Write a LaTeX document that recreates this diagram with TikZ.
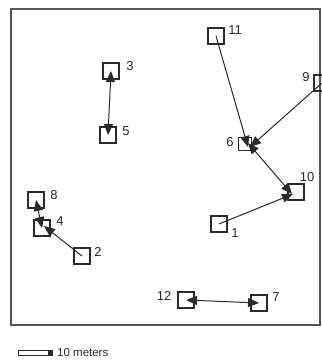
\documentclass[tikz,border=0pt]{standalone}
\usepackage{fontspec}
\setmainfont{Liberation Sans}
\usetikzlibrary{arrows.meta}
\definecolor{ink}{HTML}{2A2A2A}
\definecolor{frameink}{HTML}{555555}
\begin{document}
\begin{tikzpicture}[x=1pt,y=-1pt,
  site/.style={draw=ink,line width=1.2pt,minimum size=16pt,inner sep=0pt,fill=none},
  tag/.style={text=ink,font=\fontsize{13}{14}\selectfont,inner sep=0pt},
  tip/.style={Triangle[length=11pt,width=9pt]},
  move/.style={draw=ink,line width=1pt,-{Triangle[length=11pt,width=9pt]}},
  both/.style={draw=ink,line width=1pt,{Triangle[length=11pt,width=9pt]}-{Triangle[length=11pt,width=9pt]}}]
\useasboundingbox (0,0) rectangle (321,363);
\fill[white] (0,0) rectangle (321,363);
% study plot boundary
\draw[frameink,line width=1.8pt] (11,9) rectangle (320,325);
% sites
\node[site] (s11) at (216,36) {};
\node[site] (s3)  at (111,71) {};
\node[site] (s5)  at (108,135) {};
\node[site] (s9)  at (322,83) {};
\node[site,minimum size=13pt] (s6) at (245,144) {};
\node[site] (s10) at (296,192) {};
\node[site] (s8)  at (36,200) {};
\node[site] (s4)  at (42,228) {};
\node[site] (s2)  at (82,256) {};
\node[site] (s1)  at (219,224) {};
\node[site] (s12) at (186,300) {};
\node[site] (s7)  at (259,303) {};
% site numbers
\node[tag] (t11) at (235,30) {11};
\node[tag] (t3)  at (130,66) {3};
\node[tag] (t5)  at (126,131) {5};
\node[tag] (t9)  at (306,77) {9};
\node[tag] (t6)  at (230,142) {6};
\node[tag] (t10) at (307,177) {10};
\node[tag] (t8)  at (54,195) {8};
\node[tag] (t4)  at (60,221) {4};
\node[tag] (t2)  at (98,252) {2};
\node[tag] (t1)  at (235,233) {1};
\node[tag] (t12) at (164,296) {12};
\node[tag] (t7)  at (276,297) {7};
% movements
\draw[both] (s5.center) -- (s3.center);
\draw[move] (s11.center) -- ([xshift=3pt,yshift=-3pt]s6.center);
\draw[move] (s9.center) -- ([xshift=5pt,yshift=-3pt]s6.center);
\draw[both] ([xshift=3pt,yshift=1pt]s6.center) -- ([xshift=-4pt,yshift=-2pt]s10.center);
\draw[move] (s1.center) -- ([xshift=-3pt,yshift=-2pt]s10.center);
\draw[both] (s4.center) -- (s8.center);
\draw[move] (s2.center) -- ([xshift=2pt,yshift=2pt]s4.center);
\draw[both] (s12.center) -- (s7.center);
% scale bar
\draw[ink,line width=0.9pt] (18,350.5) rectangle (52,355.5);
\fill[ink] (48,350.5) rectangle (52,355.5);
\node[tag,anchor=west,font=\fontsize{11.5}{12}\selectfont] (scale) at (57,353) {10 meters};
\end{tikzpicture}
\end{document}
